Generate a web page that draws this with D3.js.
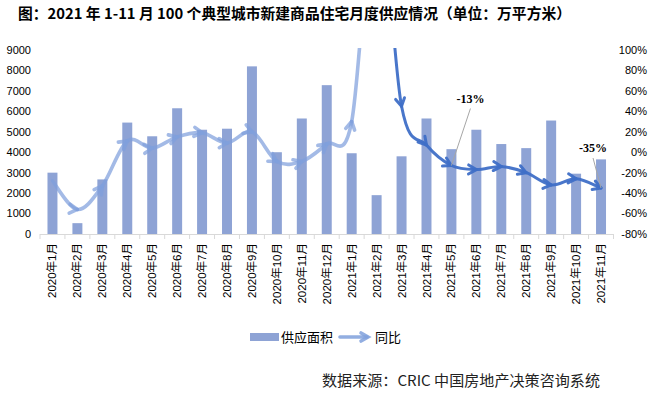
<!DOCTYPE html>
<html><head><meta charset="utf-8">
<script src="https://cdn.jsdelivr.net/npm/d3@7"></script>
<style>body{margin:0;background:#fff}svg{display:block}</style>
</head><body><svg id="c" width="656" height="396"></svg>
<script>
const categories = ["2020年1月","2020年2月","2020年3月","2020年4月","2020年5月","2020年6月","2020年7月","2020年8月","2020年9月","2020年10月","2020年11月","2020年12月",
  "2021年1月","2021年2月","2021年3月","2021年4月","2021年5月","2021年6月","2021年7月","2021年8月","2021年9月","2021年10月","2021年11月"];
const supply = [3000, 530, 2670, 5450, 4780, 6150, 5100, 5150, 8200, 4000, 5650, 7280,
  3950, 1900, 3800, 5650, 4150, 5100, 4400, 4200, 5550, 2950, 3650];
const yoy = [-28, -56, -33, 11, 4, 15, 19, 9, 20, -9, -9, 8,
  30, 258, 45, 7, -13, -17, -14, -20, -32, -26, -35];
const leftTicks = [0, 1000, 2000, 3000, 4000, 5000, 6000, 7000, 8000, 9000];
const rightTicks = [-80, -60, -40, -20, 0, 20, 40, 60, 80, 100];
const annotatedIdx = [16, 22];
const legendLabels = ["供应面积", "同比"];
const titleText = "图：2021 年 1-11 月 100 个典型城市新建商品住宅月度供应情况（单位：万平方米）";
const sourceText = "数据来源：CRIC 中国房地产决策咨询系统";

const BAR = "#8EA3D5", LIGHT = "#7FA0DC", DARK = "#3F6FC7";
const FONT = "'Liberation Sans','Noto Sans CJK SC',sans-serif";
const svg = d3.select("#c");

const x = d3.scaleBand().domain(categories).range([40, 613.5]).paddingInner(0.6).paddingOuter(0.3);
const y = d3.scaleLinear().domain([0, 9000]).range([234, 50]);
const y2 = d3.scaleLinear().domain([-80, 100]).range([234, 50]);
const cx = c => x(c) + x.bandwidth() / 2;

// title
svg.append("text").attr("x", 18).attr("y", 19)
  .attr("font-family", "'Noto Sans CJK SC',sans-serif").attr("font-weight", "bold")
  .attr("font-size", 14.5).attr("textLength", 553).attr("lengthAdjust", "spacingAndGlyphs")
  .text(titleText);

// bars
svg.append("g").selectAll("rect").data(supply).join("rect")
  .attr("x", (d, i) => x(categories[i])).attr("width", x.bandwidth())
  .attr("y", d => y(d)).attr("height", d => y(0) - y(d)).attr("fill", BAR);

// x axis
const [r0, r1] = x.range();
svg.append("line").attr("x1", r0).attr("x2", r1).attr("y1", y(0) + 0.5).attr("y2", y(0) + 0.5)
  .attr("stroke", "#d9d9d9");
svg.append("g").selectAll("line").data(d3.range(categories.length + 1)).join("line")
  .attr("x1", i => r0 + i * x.step()).attr("x2", i => r0 + i * x.step())
  .attr("y1", y(0)).attr("y2", y(0) + 5).attr("stroke", "#d9d9d9");
svg.append("g").selectAll("text").data(categories).join("text")
  .attr("transform", c => `translate(${cx(c)},243) rotate(-90)`)
  .attr("text-anchor", "end").attr("dy", "0.35em")
  .attr("font-family", FONT).attr("font-size", 11.5).attr("fill", "#000").text(c => c);

// y axes
svg.append("g").selectAll("text").data(leftTicks).join("text")
  .attr("x", 31).attr("y", d => y(d)).attr("dy", "0.35em").attr("text-anchor", "end")
  .attr("font-family", FONT).attr("font-size", 11).text(d => d);
svg.append("g").selectAll("text").data(rightTicks).join("text")
  .attr("x", 647).attr("y", d => y2(d)).attr("dy", "0.35em").attr("text-anchor", "end")
  .attr("font-family", FONT).attr("font-size", 11).text(d => d + "%");

// yoy line with arrows per segment
svg.append("clipPath").attr("id", "clip").append("rect")
  .attr("x", 30).attr("y", 48).attr("width", 600).attr("height", 200);
const pts = yoy.map((v, i) => [cx(categories[i]), y2(v)]);
const n = pts.length;
const P = i => pts[Math.max(0, Math.min(n - 1, i))];
const gl = svg.append("g").attr("clip-path", "url(#clip)").attr("fill", "none")
  .attr("stroke-linecap", "round").attr("stroke-linejoin", "round");
function chevron(p, dx, dy, L) {
  const len = Math.hypot(dx, dy) || 1, ux = dx / len, uy = dy / len, a = Math.PI / 6;
  const arm = s => [p[0] - L * (ux * Math.cos(a) - s * uy * Math.sin(a)), p[1] - L * (uy * Math.cos(a) + s * ux * Math.sin(a))];
  const A = arm(1), B = arm(-1);
  return `M${A[0]},${A[1]}L${p[0]},${p[1]}L${B[0]},${B[1]}`;
}
for (let i = 0; i < n - 1; i++) {
  const p0 = P(i - 1), p1 = P(i), p2 = P(i + 1), p3 = P(i + 2);
  const c1 = [p1[0] + (p2[0] - p0[0]) / 6, p1[1] + (p2[1] - p0[1]) / 6];
  const c2 = [p2[0] - (p3[0] - p1[0]) / 6, p2[1] - (p3[1] - p1[1]) / 6];
  const dark = i >= 13;
  const col = dark ? DARK : LIGHT;
  const op = dark ? 0.95 : 0.72;
  const w = dark ? 3 : 3.6;
  gl.append("path").attr("d", `M${p1[0]},${p1[1]}C${c1[0]},${c1[1]} ${c2[0]},${c2[1]} ${p2[0]},${p2[1]}`)
    .attr("stroke", col).attr("stroke-width", w).attr("stroke-opacity", op);
  gl.append("path").attr("d", chevron(p2, p2[0] - c2[0], p2[1] - c2[1], 9))
    .attr("stroke", col).attr("stroke-width", w).attr("stroke-opacity", op);
}

// annotations
const annOffsets = [[19, -67], [-8, -40]];
annotatedIdx.forEach((idx, k) => {
  const p = pts[idx], o = annOffsets[k];
  const lx = p[0] + o[0], ly = p[1] + o[1];
  svg.append("line").attr("x1", lx).attr("y1", ly + 10).attr("x2", p[0]).attr("y2", p[1])
    .attr("stroke", "#a6a6a6").attr("stroke-width", 1);
  svg.append("text").attr("x", lx).attr("y", ly).attr("dy", "0.35em").attr("text-anchor", "middle")
    .attr("font-family", "'Liberation Serif',serif").attr("font-weight", "bold").attr("font-size", 12)
    .text(yoy[idx] + "%");
});

// legend
svg.append("rect").attr("x", 250).attr("y", 333).attr("width", 29).attr("height", 8).attr("fill", BAR);
svg.append("text").attr("x", 281).attr("y", 337).attr("dy", "0.35em")
  .attr("font-family", FONT).attr("font-size", 13).text(legendLabels[0]);
svg.append("path").attr("d", "M340,337L367,337").attr("stroke", LIGHT).attr("stroke-width", 3.6)
  .attr("stroke-opacity", 0.85).attr("stroke-linecap", "round");
svg.append("path").attr("d", chevron([368, 337], 1, 0, 8)).attr("stroke", LIGHT).attr("stroke-width", 3.6)
  .attr("fill", "none").attr("stroke-opacity", 0.85).attr("stroke-linecap", "round");
svg.append("text").attr("x", 375).attr("y", 337).attr("dy", "0.35em")
  .attr("font-family", FONT).attr("font-size", 13).text(legendLabels[1]);

// source
svg.append("text").attr("x", 322).attr("y", 381).attr("dy", "0.35em")
  .attr("font-family", "'Noto Sans CJK SC',sans-serif").attr("font-size", 14.5)
  .attr("textLength", 278).attr("lengthAdjust", "spacingAndGlyphs").attr("fill", "#222")
  .text(sourceText);
</script></body></html>
